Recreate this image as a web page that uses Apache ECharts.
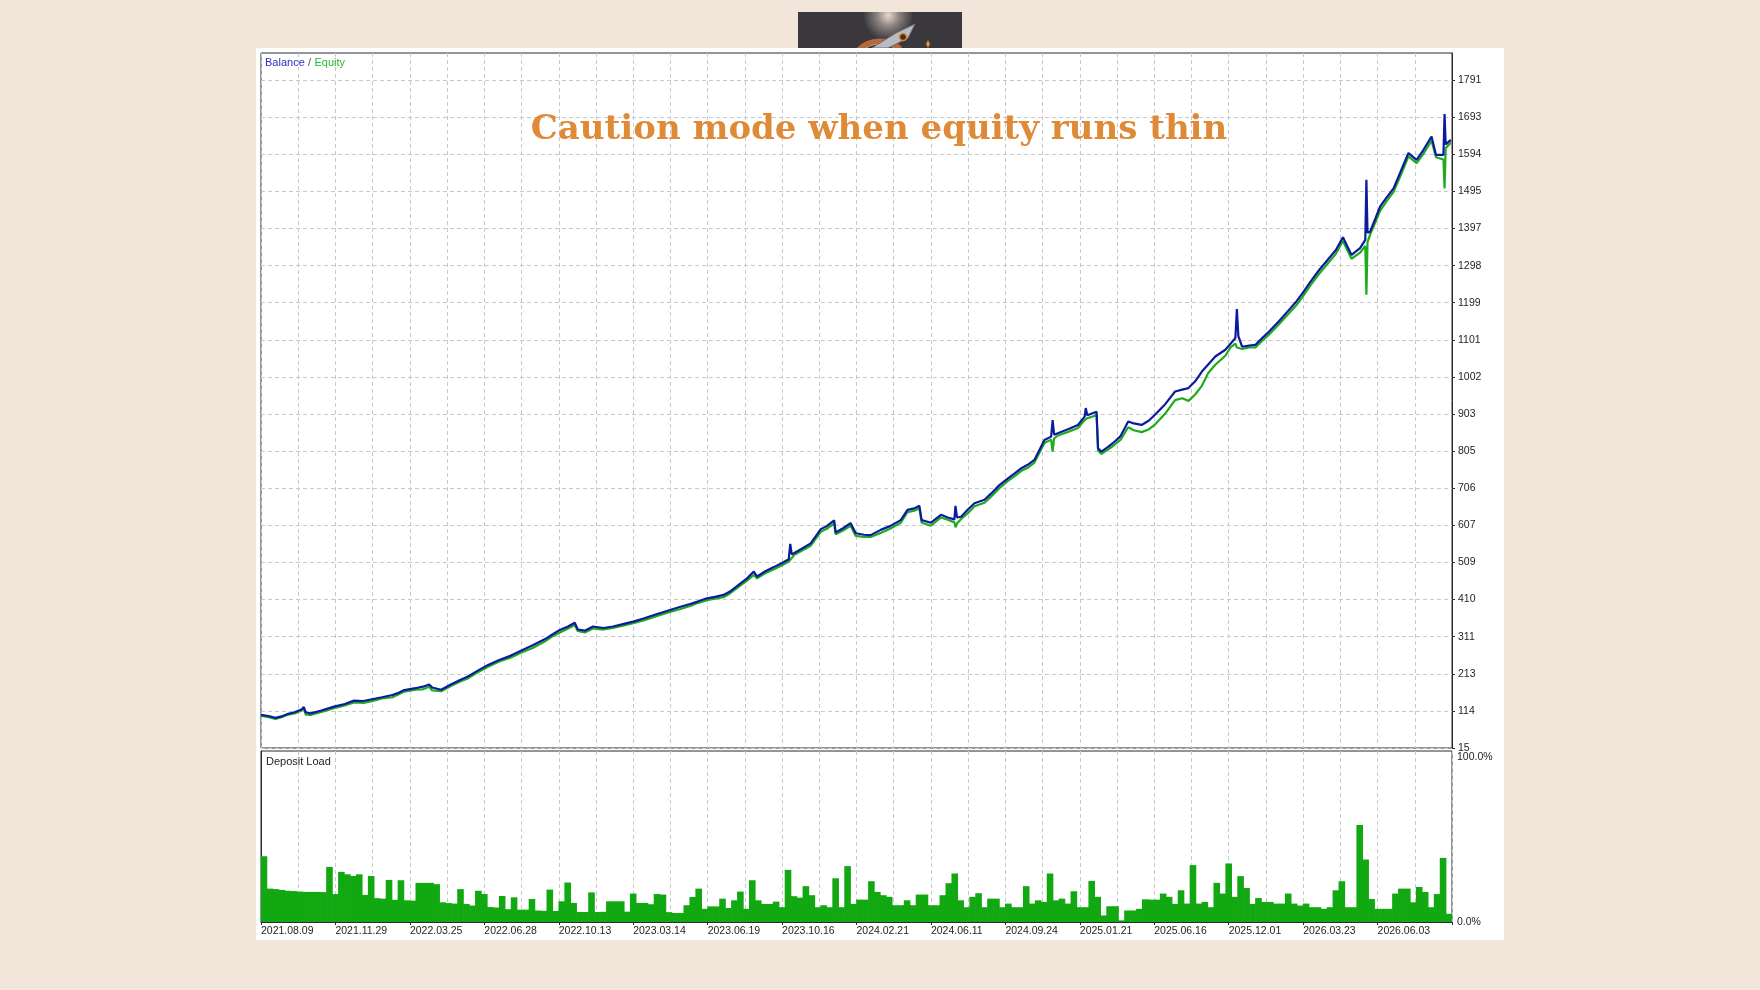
<!DOCTYPE html>
<html>
<head>
<meta charset="utf-8">
<script src="https://cdn.jsdelivr.net/npm/echarts@6/dist/echarts.min.js"></script>
<style>
html,body{margin:0;padding:0;background:#f2e5d9;}
#c{width:1760px;height:990px;}
</style>
</head>
<body>
<div id="c"></div>
<script>
// ---- data ----
const dateLabels = ['2021.08.09','2021.11.29','2022.03.25','2022.06.28','2022.10.13','2023.03.14','2023.06.19','2023.10.16','2024.02.21','2024.06.11','2024.09.24','2025.01.21','2025.06.16','2025.12.01','2026.03.23','2026.06.03'];
const yTickLabels = ['15','114','213','311','410','509','607','706','805','903','1002','1101','1199','1298','1397','1495','1594','1693','1791'];
const loadTickLabels = ['0.0%','100.0%'];

const tradeIdx = [0,0.2,0.39,0.55,0.7,0.9,1.1,1.15,1.2,1.33,1.6,1.96,2.25,2.5,2.75,2.95,3.25,3.53,3.7,3.85,4.15,4.35,4.52,4.6,4.84,5.1,5.35,5.56,5.85,6.1,6.4,6.7,7,7.3,7.62,7.85,8.03,8.25,8.43,8.51,8.7,8.92,9.2,9.46,9.75,10,10.3,10.6,10.99,11.25,11.53,11.75,11.98,12.2,12.43,12.6,12.85,13.06,13.24,13.33,13.55,13.78,14,14.18,14.22,14.26,14.32,14.55,14.77,15.04,15.2,15.4,15.44,15.65,15.84,15.98,16.2,16.38,16.65,16.9,17.19,17.37,17.55,17.69,17.75,18,18.27,18.45,18.63,18.66,18.7,18.81,19,19.17,19.44,19.6,19.84,20.07,20.25,20.43,20.6,20.78,21.05,21.23,21.27,21.31,21.41,21.7,21.95,22.13,22.16,22.2,22.45,22.49,22.58,22.75,22.94,23.1,23.3,23.45,23.66,23.85,24.02,24.3,24.56,24.75,24.92,25.1,25.28,25.45,25.64,25.91,26.05,26.18,26.22,26.26,26.36,26.55,26.72,26.9,27.08,27.35,27.62,27.8,27.98,28.2,28.43,28.65,28.88,29.07,29.3,29.53,29.67,29.7,29.73,29.8,29.95,30.07,30.25,30.43,30.63,30.83,31.05,31.23,31.45,31.57,31.77,31.8,31.83,31.97];

const balance = [103,100,95,99,105,110,118,124,110,107,114,125,132,141,140,144,150,156,162,169,174,178,184,176,170,184,196,205,222,236,249,260,274,288,304,318,329,338,348,330,327,338,334,338,345,351,360,370,382,390,398,405,413,417,422,431,450,466,484,471,485,496,507,517,558,530,533,546,559,597,605,620,588,600,613,586,582,581,595,605,621,648,652,659,621,614,635,628,623,659,628,630,650,666,675,690,714,732,745,759,768,781,834,843,887,848,852,863,874,896,919,900,909,812,803,815,830,845,883,878,874,885,901,930,963,968,972,990,1016,1035,1056,1074,1090,1105,1182,1110,1082,1085,1087,1105,1122,1150,1180,1200,1224,1255,1286,1312,1339,1373,1326,1344,1366,1526,1385,1388,1425,1455,1480,1503,1550,1597,1579,1605,1641,1592,1592,1701,1620,1632];

const equity = [101,97,92,97,103,107,115,121,104,103,110,121,128,136,135,139,147,150,158,165,170,171,178,168,166,180,192,200,218,231,245,255,269,281,298,313,322,333,342,326,322,333,330,334,341,347,355,365,377,384,393,401,408,412,416,426,445,460,475,466,480,490,501,511,510,520,528,541,553,590,598,612,583,594,606,579,576,576,587,598,614,642,646,652,614,606,628,622,615,602,612,624,640,658,667,682,706,725,738,752,760,774,826,835,803,838,846,856,866,887,890,892,900,806,797,808,822,835,868,860,855,862,875,905,940,945,938,955,978,1012,1034,1058,1080,1090,1080,1085,1076,1080,1080,1098,1114,1142,1171,1190,1214,1246,1276,1302,1329,1363,1316,1332,1350,1220,1360,1380,1415,1444,1470,1494,1540,1588,1570,1595,1630,1586,1580,1503,1610,1625];

const depositLoad = [40,20.3,20,19.5,19,18.8,18.5,18.3,18.3,18.3,18.2,33.5,17,30.5,29,28,29,16.5,28,14.5,14.2,25.6,13.5,25.4,13.2,13,23.8,23.8,23.8,23,12,11.5,11.2,20,11,10,19,17,9.1,8.8,15.8,7.8,15,7.5,7.5,14,7,6.8,19.7,6.7,12.6,24,11.6,6.1,6.1,18,6.1,6.2,12.6,12.6,12.6,6.3,17.3,11.6,11.6,10.8,17,16.7,6,5.5,5.5,10.2,15.2,20.3,8,9.5,9.5,14.2,8.5,13.2,18.5,8,25.4,13.2,11,11,12.4,9,31.7,15.7,14.8,21.8,16.3,9,10.2,9,26.6,9,34,11,13.6,13.6,24.8,18.3,16.3,15.3,10.2,10.2,13.2,10.2,16.7,16.7,10.2,10.2,16.3,23.6,29.5,13.2,9,15.3,17.5,9,14.2,14.2,9,11.2,9,9,21.8,11.2,13.2,12.2,29.5,13.2,14.2,11.2,18.7,9,9,25,15.3,4,9.6,9.6,1,7,7,8,13.8,13.6,13.6,17.3,15.3,11,19.3,11.2,34.6,11.2,12.2,9,23.8,17.3,35.6,15.3,27.9,20.7,11,14.6,12.2,12.2,11.2,11.2,17.3,11.2,10,11.2,9,9,8,9,19.3,24.8,9,9,59,38,14,8,8,8,17.3,20.3,20.3,12,21.3,18.3,9,17,39,5];

// ---- chart ----
const yMin = 15, yStep = 98.667, yUnitsMax = 18.73;
const yMax = yMin + yStep * yUnitsMax;
const gridColor = '#c6cacf';
const labelFont = {fontFamily: 'Liberation Sans', fontSize: 10.5, color: '#1e1e1e'};
const isInt = v => Math.abs(v - Math.round(v)) < 1e-6;
const yTickUnits = yTickLabels.map((_, i) => i);

const chart = echarts.init(document.getElementById('c'), null, {renderer: 'canvas'});
chart.setOption({
  animation: false,
  backgroundColor: 'transparent',
  grid: [
    {left: 261, top: 53, width: 1191, height: 695, show: true, backgroundColor: '#ffffff', borderColor: '#2a2a2a', borderWidth: 1},
    {left: 261, top: 751, width: 1191, height: 171, show: true, backgroundColor: '#ffffff', borderColor: '#2a2a2a', borderWidth: 1}
  ],
  xAxis: [
    {gridIndex: 0, type: 'value', min: 0, max: 32, interval: 1,
     axisLine: {show: false}, axisTick: {show: false}, axisLabel: {show: false},
     splitLine: {show: true, lineStyle: {color: gridColor, type: [4, 3], width: 1}}},
    {gridIndex: 1, type: 'value', min: 0, max: 32, interval: 1,
     axisLine: {show: false}, axisTick: {show: false}, axisLabel: {show: false},
     splitLine: {show: true, lineStyle: {color: gridColor, type: [4, 3], width: 1}}},
    {gridIndex: 1, type: 'value', min: 0, max: 32, interval: 2, position: 'bottom',
     axisLine: {show: true, lineStyle: {color: '#2a2a2a', width: 1}},
     axisTick: {show: true, length: 3, lineStyle: {color: '#2a2a2a'}},
     axisLabel: Object.assign({show: true, align: 'left', margin: 4,
       formatter: v => (isInt(v) && Math.round(v) % 2 === 0 && dateLabels[Math.round(v) / 2]) ? dateLabels[Math.round(v) / 2] : '',
       showMaxLabel: true, showMinLabel: true}, labelFont),
     splitLine: {show: false}},
    {gridIndex: 1, type: 'category', show: false, boundaryGap: true,
     data: depositLoad.map((_, i) => i)}
  ],
  yAxis: [
    {gridIndex: 0, type: 'value', min: yMin, max: yMax, show: false, splitLine: {show: false}},
    {gridIndex: 0, type: 'value', min: 0, max: yUnitsMax, interval: 1, position: 'right',
     axisLine: {show: true, lineStyle: {color: '#2a2a2a', width: 1}},
     axisTick: {show: true, length: 3, customValues: yTickUnits, lineStyle: {color: '#2a2a2a'}},
     axisLabel: Object.assign({show: true, margin: 6, padding: [4, 0, 0, 0], customValues: yTickUnits,
       formatter: v => isInt(v) && yTickLabels[Math.round(v)] !== undefined ? yTickLabels[Math.round(v)] : ''}, labelFont),
     splitLine: {show: true, lineStyle: {color: gridColor, type: [4, 3], width: 1}}},
    {gridIndex: 1, type: 'value', min: 0, max: 104, interval: 100, position: 'right',
     axisLine: {show: true, lineStyle: {color: '#2a2a2a', width: 1}},
     axisTick: {show: false},
     axisLabel: Object.assign({show: true, margin: 5, padding: [4, 0, 0, 0],
       formatter: v => v === 0 ? loadTickLabels[0] : (v === 100 ? loadTickLabels[1] : '')}, labelFont),
     splitLine: {show: false}}
  ],
  series: [
    {name: 'Equity', type: 'line', xAxisIndex: 0, yAxisIndex: 0, z: 3,
     data: tradeIdx.map((x, i) => [x, equity[i]]),
     showSymbol: false, symbol: 'none', lineStyle: {color: '#1eac1e', width: 2.2}},
    {name: 'Balance', type: 'line', xAxisIndex: 0, yAxisIndex: 0, z: 4,
     data: tradeIdx.map((x, i) => [x, balance[i]]),
     showSymbol: false, symbol: 'none', lineStyle: {color: '#0c1a9e', width: 2.2}},
    {name: 'Deposit Load', type: 'bar', xAxisIndex: 3, yAxisIndex: 2,
     data: depositLoad, barWidth: 6.6, itemStyle: {color: '#12a812'}}
  ],
  graphic: [
    // logo stub
    {type: 'rect', z: -20, shape: {x: 798, y: 12, width: 164, height: 36},
     style: {fill: new echarts.graphic.RadialGradient(0.55, 0.1, 0.7, [
       {offset: 0, color: '#e6d8cc'}, {offset: 0.45, color: '#8a8080'}, {offset: 1, color: '#3a383c'}])}},
    {type: 'arc', z: -19, shape: {cx: 880, cy: 72, r: 31, startAngle: -2.35, endAngle: -0.85},
     style: {stroke: '#b8683a', lineWidth: 5, fill: null}},
    {type: 'arc', z: -19, shape: {cx: 880, cy: 72, r: 28, startAngle: -2.3, endAngle: -0.9},
     style: {stroke: '#e6a070', lineWidth: 1, fill: null}},
    {type: 'polygon', z: -18, shape: {points: [[872, 48], [896, 33], [915, 24], [908, 38], [888, 48]]},
     style: {fill: '#b9bcc2', stroke: '#6c6e74', lineWidth: 1}},
    {type: 'circle', z: -17, shape: {cx: 903, cy: 37, r: 3.5},
     style: {fill: '#3a3030', stroke: '#e08a30', lineWidth: 1.5}},
    {type: 'polygon', z: -17, shape: {points: [[928, 40], [930, 44], [928, 48], [926, 44]]},
     style: {fill: '#e89030'}},
    // white panel
    {type: 'rect', z: -10, shape: {x: 256, y: 48, width: 1248, height: 892}, style: {fill: '#ffffff'}},
    // title
    {type: 'text', z: 100, x: 879, y: 130,
     style: {text: 'Caution mode when equity runs thin', fill: '#df8a36',
       font: 'bold 34px "DejaVu Serif"', align: 'center', verticalAlign: 'middle'}},
    // legend labels
    {type: 'text', z: 100, x: 265, y: 63,
     style: {text: '{b|Balance} {s|/} {e|Equity}', verticalAlign: 'middle', align: 'left',
       rich: {
         b: {fill: '#2c2cc4', fontFamily: 'Liberation Sans', fontSize: 11},
         s: {fill: '#555555', fontFamily: 'Liberation Sans', fontSize: 11},
         e: {fill: '#2fb52f', fontFamily: 'Liberation Sans', fontSize: 11}
       }}},
    {type: 'text', z: 100, x: 266, y: 762,
     style: {text: 'Deposit Load', fill: '#222222', font: '11px "Liberation Sans"', align: 'left', verticalAlign: 'middle'}}
  ]
});
</script>
</body>
</html>
